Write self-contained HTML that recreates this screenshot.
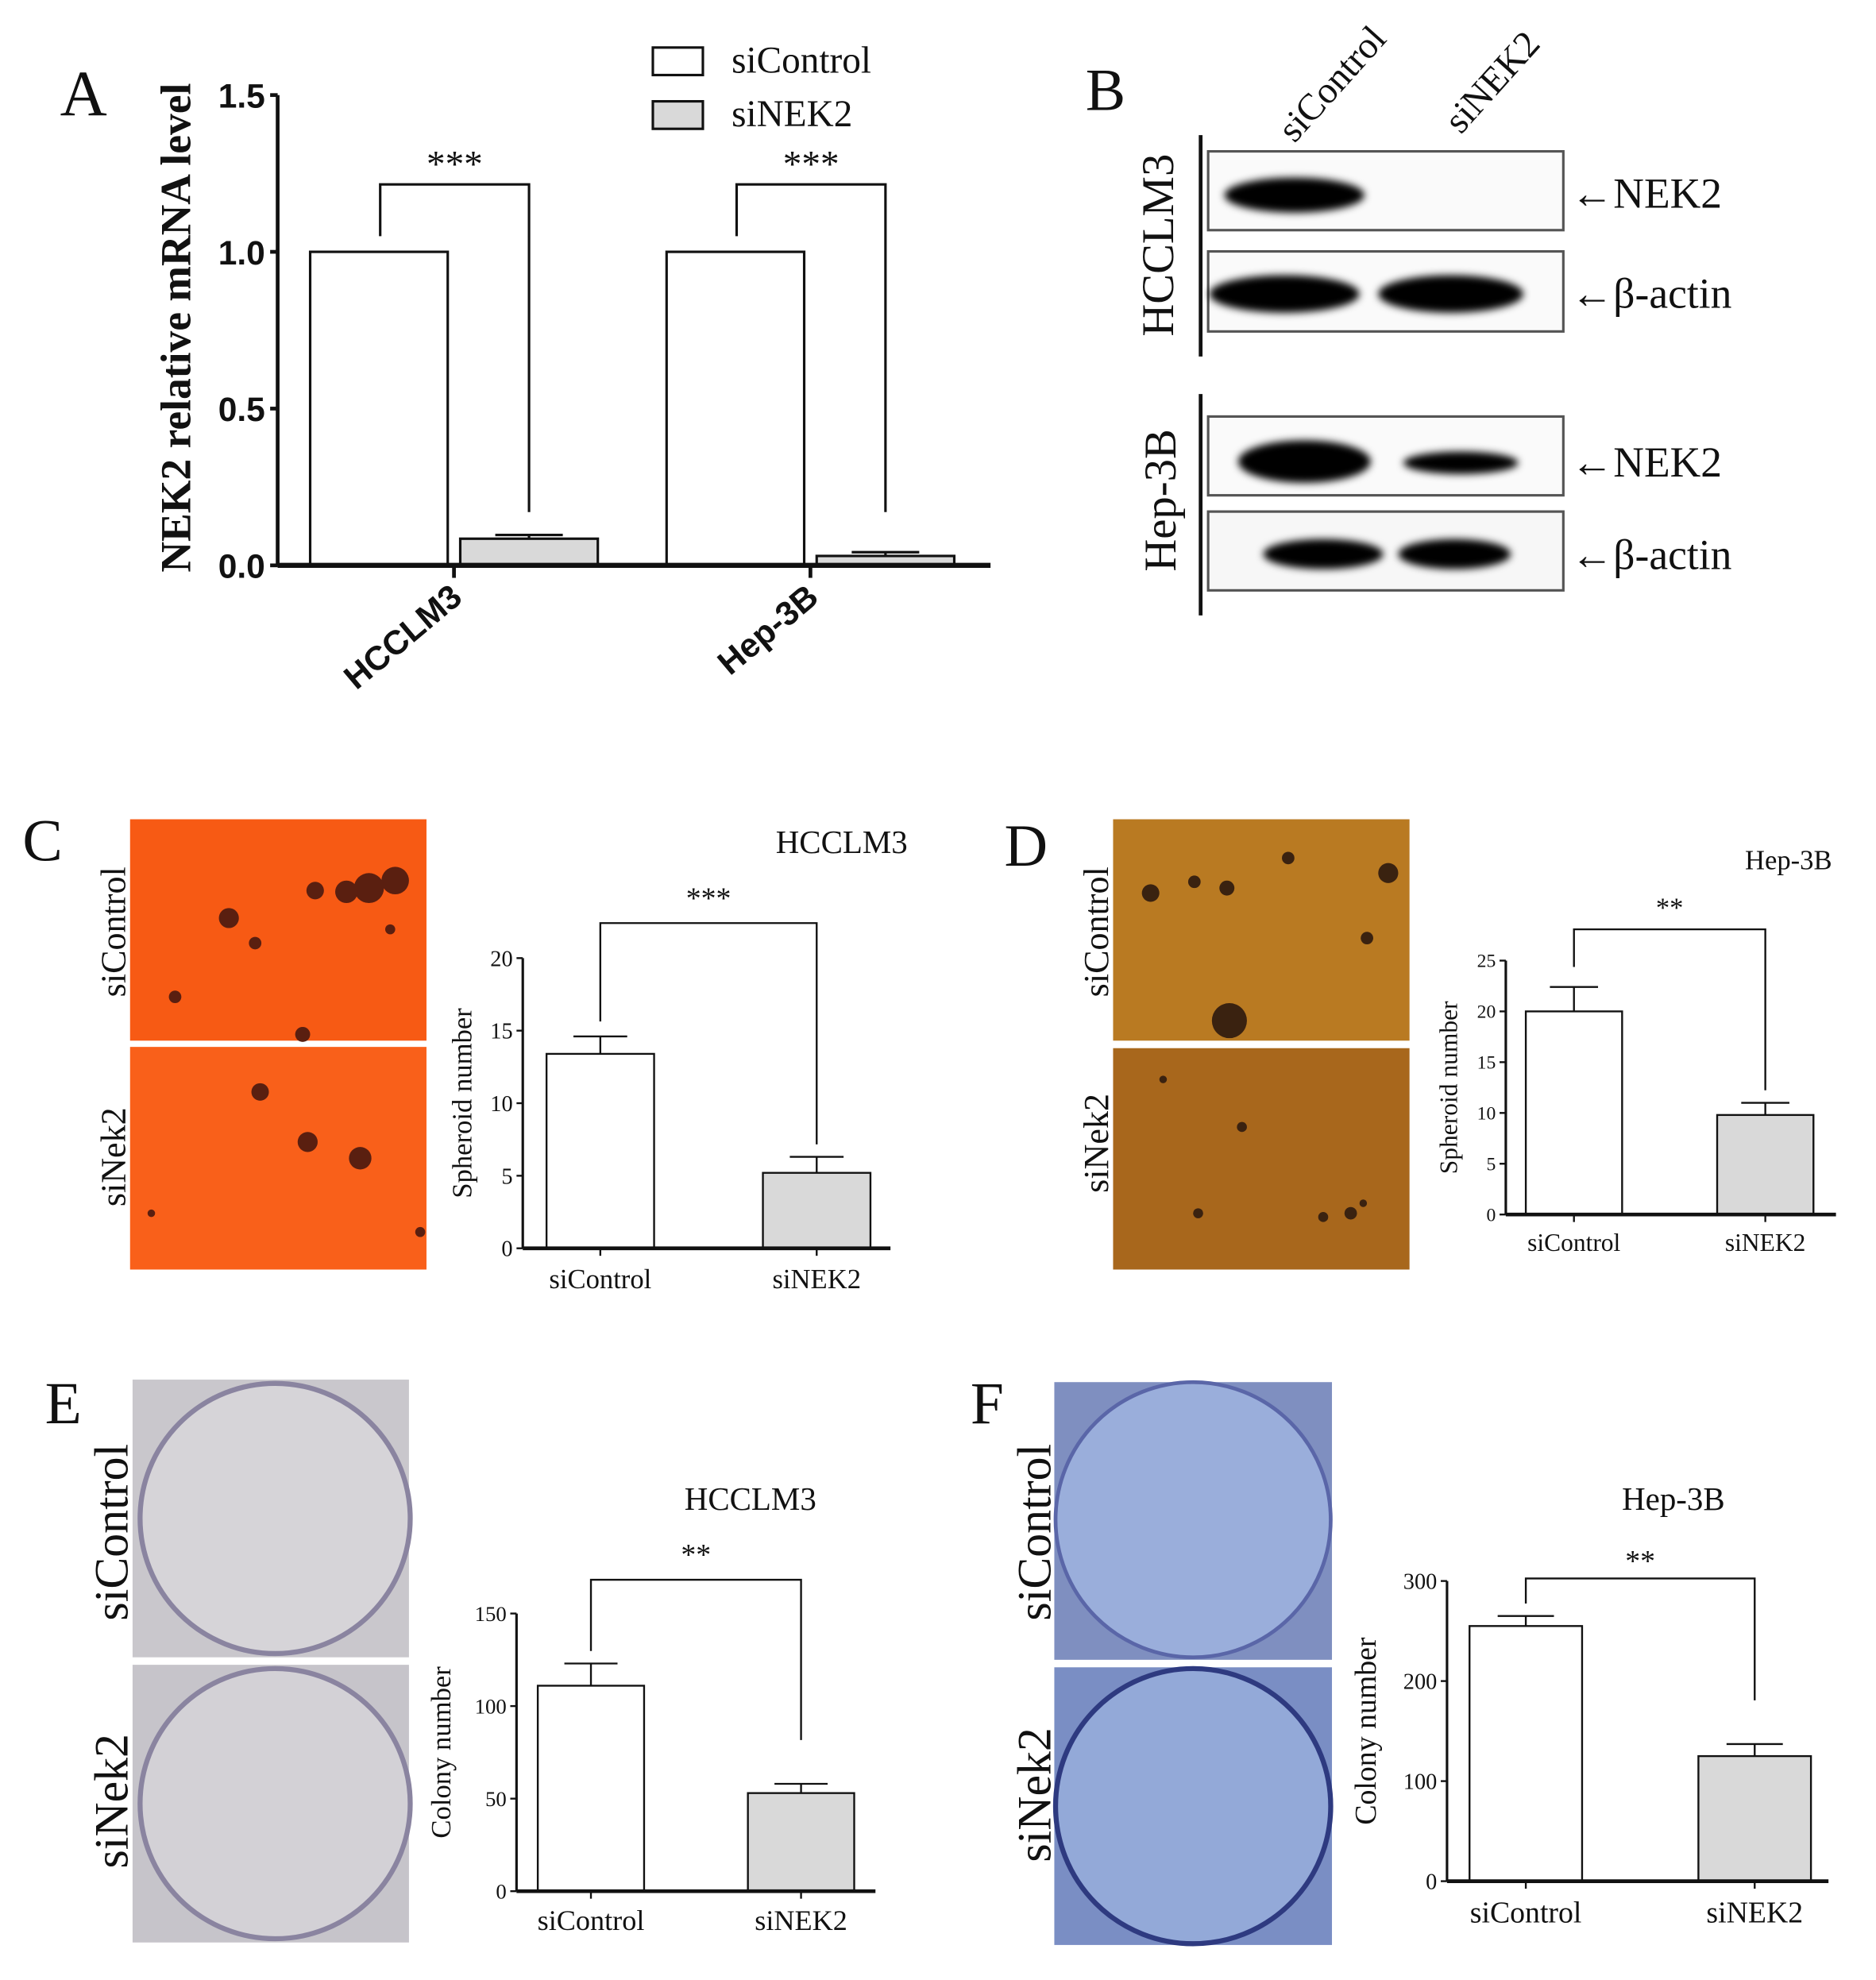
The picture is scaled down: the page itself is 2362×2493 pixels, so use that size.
<!DOCTYPE html>
<html><head><meta charset="utf-8">
<style>
html,body{margin:0;padding:0;background:#fff;}
svg{display:block;}
text{font-family:"Liberation Serif",serif;fill:#111;}
.sans{font-family:"Liberation Sans",sans-serif;font-weight:bold;}
</style></head>
<body>
<svg id="fig" xmlns="http://www.w3.org/2000/svg" width="2362" height="2493" viewBox="0 0 1500 1583" preserveAspectRatio="none">
<rect width="1500" height="1583" fill="#fff"/>
<!-- Panel labels -->
<text x="48" y="92" font-size="52">A</text>
<text x="868" y="88" font-size="48">B</text>
<text x="18" y="688" font-size="48">C</text>
<text x="803" y="692" font-size="48">D</text>
<text x="36" y="1138" font-size="48">E</text>
<text x="776" y="1138" font-size="48">F</text>

<!-- Panel A legend -->
<g>
<rect x="522" y="38" width="40" height="22" fill="#fff" stroke="#111" stroke-width="2"/>
<text x="585" y="58" font-size="30">siControl</text>
<rect x="522" y="81" width="40" height="22" fill="#d9d9d9" stroke="#111" stroke-width="2"/>
<text x="585" y="101" font-size="30">siNEK2</text>
</g>
<g id="chartA"></g>

<!-- Panel B western blot -->
<g>
<defs>
<filter id="blur" x="-20%" y="-50%" width="140%" height="200%"><feGaussianBlur stdDeviation="3"/></filter>
</defs>
<text transform="translate(1035,115) rotate(-48)" font-size="30">siControl</text>
<text transform="translate(1168,108) rotate(-48)" font-size="30">siNEK2</text>
<line x1="960" y1="108" x2="960" y2="285" stroke="#111" stroke-width="3"/>
<line x1="960" y1="315" x2="960" y2="492" stroke="#111" stroke-width="3"/>
<text transform="translate(938,196) rotate(-90)" font-size="36" text-anchor="middle">HCCLM3</text>
<text transform="translate(940,400) rotate(-90)" font-size="36" text-anchor="middle">Hep-3B</text>
<rect x="966" y="121" width="284" height="63" fill="#fafafa" stroke="#555" stroke-width="2"/>
<ellipse cx="1035" cy="156" rx="56" ry="14" fill="#000" filter="url(#blur)"/>
<rect x="966" y="201" width="284" height="64" fill="#fafafa" stroke="#555" stroke-width="2"/>
<ellipse cx="1027" cy="235" rx="60" ry="15" fill="#000" filter="url(#blur)"/>
<ellipse cx="1160" cy="235" rx="58" ry="15" fill="#000" filter="url(#blur)"/>
<rect x="966" y="333" width="284" height="63" fill="#fafafa" stroke="#555" stroke-width="2"/>
<ellipse cx="1043" cy="369" rx="53" ry="17" fill="#000" filter="url(#blur)"/>
<ellipse cx="1168" cy="370" rx="46" ry="9" fill="#000" filter="url(#blur)"/>
<rect x="966" y="409" width="284" height="63" fill="#f7f7f7" stroke="#555" stroke-width="2"/>
<ellipse cx="1058" cy="443" rx="48" ry="12" fill="#000" filter="url(#blur)"/>
<ellipse cx="1163" cy="443" rx="45" ry="12" fill="#000" filter="url(#blur)"/>
<text x="1256" y="166" font-size="34">←NEK2</text>
<text x="1256" y="246" font-size="34">←β-actin</text>
<text x="1256" y="381" font-size="34">←NEK2</text>
<text x="1256" y="455" font-size="34">←β-actin</text>
</g>

<!-- Panel C photos -->
<g>
<rect x="104" y="655" width="237" height="177" fill="#f75a14"/>
<rect x="104" y="837" width="237" height="178" fill="#f9601a"/>
<g fill="#5a1f10">
<circle cx="316" cy="704" r="11"/><circle cx="295" cy="710" r="12"/><circle cx="277" cy="713" r="9"/><circle cx="252" cy="712" r="7"/>
<circle cx="183" cy="734" r="8"/><circle cx="204" cy="754" r="5"/><circle cx="140" cy="797" r="5"/><circle cx="242" cy="827" r="6"/><circle cx="312" cy="743" r="4"/>
<circle cx="208" cy="873" r="7"/><circle cx="246" cy="913" r="8"/><circle cx="288" cy="926" r="9"/><circle cx="121" cy="970" r="3"/><circle cx="336" cy="985" r="4"/>
</g>
<text transform="translate(100,745) rotate(-90)" font-size="28" text-anchor="middle">siControl</text>
<text transform="translate(100,925) rotate(-90)" font-size="28" text-anchor="middle">siNek2</text>
</g>
<!-- Panel D photos -->
<g>
<rect x="890" y="655" width="237" height="177" fill="#b97a22"/>
<rect x="890" y="838" width="237" height="177" fill="#a8671c"/>
<g fill="#3a2210">
<circle cx="983" cy="816" r="14"/><circle cx="1110" cy="698" r="8"/><circle cx="920" cy="714" r="7"/><circle cx="955" cy="705" r="5"/><circle cx="981" cy="710" r="6"/><circle cx="1030" cy="686" r="5"/><circle cx="1093" cy="750" r="5"/><circle cx="930" cy="863" r="3"/>
<circle cx="1080" cy="970" r="5"/><circle cx="1058" cy="973" r="4"/><circle cx="993" cy="901" r="4"/><circle cx="958" cy="970" r="4"/><circle cx="1090" cy="962" r="3"/>
</g>
<text transform="translate(886,745) rotate(-90)" font-size="28" text-anchor="middle">siControl</text>
<text transform="translate(886,914) rotate(-90)" font-size="28" text-anchor="middle">siNek2</text>
</g>
<!-- Panel E photos -->
<g>
<rect x="106" y="1103" width="221" height="222" fill="#c9c7cc"/>
<circle cx="220" cy="1214" r="108" fill="#d6d4d8" stroke="#8a84a0" stroke-width="4"/>
<rect x="106" y="1331" width="221" height="222" fill="#c6c4ca"/>
<circle cx="220" cy="1442" r="108" fill="#d3d1d6" stroke="#8a84a0" stroke-width="4"/>
<text transform="translate(102,1225) rotate(-90)" font-size="38" text-anchor="middle">siControl</text>
<text transform="translate(102,1440) rotate(-90)" font-size="38" text-anchor="middle">siNek2</text>
</g>
<!-- Panel F photos -->
<g>
<rect x="843" y="1105" width="222" height="222" fill="#7f8fc0"/>
<circle cx="954" cy="1215" r="110" fill="#9aaedb" stroke="#5a66a8" stroke-width="3"/>
<rect x="843" y="1333" width="222" height="222" fill="#7a8ec4"/>
<circle cx="954" cy="1444" r="110" fill="#93a9d8" stroke="#2e3a80" stroke-width="4"/>
<text transform="translate(840,1225) rotate(-90)" font-size="38" text-anchor="middle">siControl</text>
<text transform="translate(840,1435) rotate(-90)" font-size="38" text-anchor="middle">siNek2</text>
</g>
<g id="chartC"></g>
<g id="chartD"></g>
<g id="chartE"></g>
<g id="chartF"></g>
</svg>
<script>
// ---- Panel A data ----
const aCategories = ["HCCLM3", "Hep-3B"];
const aControl = [1.0, 1.0];
const aControlErr = [0, 0];
const aNek2 = [0.085, 0.03];
const aNek2Err = [0.012, 0.012];
const aTicks = [0, 0.5, 1.0, 1.5];
const aTickLabels = ["0.0", "0.5", "1.0", "1.5"];
// ---- Panel C data ----
const cCategories = ["siControl", "siNEK2"];
const cValues = [13.4, 5.2];
const cErrors = [1.2, 1.1];
const cTicks = [0, 5, 10, 15, 20];
// ---- Panel D data ----
const dCategories = ["siControl", "siNEK2"];
const dValues = [20, 9.8];
const dErrors = [2.4, 1.2];
const dTicks = [0, 5, 10, 15, 20, 25];
// ---- Panel E data ----
const eCategories = ["siControl", "siNEK2"];
const eValues = [111, 53];
const eErrors = [12, 5];
const eTicks = [0, 50, 100, 150];
// ---- Panel F data ----
const fCategories = ["siControl", "siNEK2"];
const fValues = [255, 125];
const fErrors = [10, 12];
const fTicks = [0, 100, 200, 300];

const NS = "http://www.w3.org/2000/svg";
function mk(parent, tag, attrs, txt) {
  const el = document.createElementNS(NS, tag);
  for (const k in attrs) el.setAttribute(k, attrs[k]);
  if (txt !== undefined) el.textContent = txt;
  parent.appendChild(el);
  return el;
}

// Panel A
(function(){
  const g = document.getElementById("chartA");
  const x0 = 222, x1 = 792, yb = 452, yt = 76, vmax = 1.5;
  const y = v => yb - (yb - yt) * v / vmax;
  const groupStart = [248, 533], bw = 110, gap = 10;
  mk(g, "line", {x1:x0, y1:yt, x2:x0, y2:yb, stroke:"#111", "stroke-width":3});
  aTicks.forEach((t,i) => {
    mk(g, "line", {x1:x0-6, y1:y(t), x2:x0, y2:y(t), stroke:"#111", "stroke-width":3});
    const tl = mk(g, "text", {x:x0-10, y:y(t)+10, "font-size":27, "text-anchor":"end", class:"sans"}, aTickLabels[i]);
    
    
  });
  const yt2 = mk(g, "text", {transform:"translate(152,262) rotate(-90)", "font-size":34, "font-weight":"bold", "text-anchor":"middle"}, "NEK2 relative mRNA level");
  
  
  aCategories.forEach((c,i) => {
    const xs = groupStart[i];
    const b1 = mk(g, "rect", {x:xs, y:y(aControl[i]), width:bw, height:yb-y(aControl[i]), fill:"#fff", stroke:"#111", "stroke-width":2});
    
    
    const xn = xs + bw + gap;
    const b2 = mk(g, "rect", {x:xn, y:y(aNek2[i]), width:bw, height:yb-y(aNek2[i]), fill:"#d9d9d9", stroke:"#111", "stroke-width":2});
    
    
    const xc = xn + bw/2, ye = y(aNek2[i] + aNek2Err[i]);
    mk(g, "line", {x1:xc, y1:y(aNek2[i]), x2:xc, y2:ye, stroke:"#111", "stroke-width":2});
    mk(g, "line", {x1:xc-27, y1:ye, x2:xc+27, y2:ye, stroke:"#111", "stroke-width":2});
    // bracket
    const bl = xs + bw/2 + 1, br = xc;
    mk(g, "polyline", {points:`${bl},${y(1.05)} ${bl},${y(1.215)} ${br},${y(1.215)} ${br},${y(0.17)}`, fill:"none", stroke:"#111", "stroke-width":2});
    const st = mk(g, "text", {x:(bl+br)/2, y:y(1.215)-6, "font-size":30, "text-anchor":"middle"}, "***");
    
    
    // tick & label
    const tx = xs + bw + gap/2;
    mk(g, "line", {x1:tx, y1:yb, x2:tx, y2:yb+10, stroke:"#111", "stroke-width":3});
    const xl = mk(g, "text", {transform:`translate(${tx+8},${yb+28}) rotate(-40)`, "font-size":27, "text-anchor":"end", class:"sans"}, c);
    
    
  });
  mk(g, "line", {x1:x0, y1:yb, x2:x1, y2:yb, stroke:"#111", "stroke-width":4});
})();

function smallChart(id, cats, vals, errs, ticks, cfg) {
  const g = document.getElementById(id);
  const y = v => cfg.yb - (cfg.yb - cfg.yt) * v / cfg.vmax;
  mk(g, "line", {x1:cfg.x0, y1:cfg.yt, x2:cfg.x0, y2:cfg.yb, stroke:"#111", "stroke-width":2});
  ticks.forEach(t => {
    mk(g, "line", {x1:cfg.x0-5, y1:y(t), x2:cfg.x0, y2:y(t), stroke:"#111", "stroke-width":1.5});
    const tl = mk(g, "text", {x:cfg.x0-8, y:y(t)+cfg.tf*0.35, "font-size":cfg.tf, "text-anchor":"end"}, String(t));
    
    
  });
  const yt = mk(g, "text", {transform:`translate(${cfg.ytx},${(cfg.yt+cfg.yb)/2}) rotate(-90)`, "font-size":cfg.yf, "text-anchor":"middle"}, cfg.ylabel);
  
  
  const title = mk(g, "text", {x:cfg.titleX, y:cfg.titleY, "font-size":cfg.titleF, "text-anchor":"middle"}, cfg.title);
  
  
  const centers = [];
  cats.forEach((c,i) => {
    const xs = cfg.bx[i];
    const b = mk(g, "rect", {x:xs, y:y(vals[i]), width:cfg.bw, height:cfg.yb-y(vals[i]), fill:i===0?"#fff":"#d9d9d9", stroke:"#111", "stroke-width":1.5});
    
    
    const xc = xs + cfg.bw/2; centers.push(xc);
    const ye = y(vals[i] + errs[i]);
    mk(g, "line", {x1:xc, y1:y(vals[i]), x2:xc, y2:ye, stroke:"#111", "stroke-width":1.5});
    mk(g, "line", {x1:xc-cfg.bw*0.25, y1:ye, x2:xc+cfg.bw*0.25, y2:ye, stroke:"#111", "stroke-width":1.5});
    mk(g, "line", {x1:xc, y1:cfg.yb, x2:xc, y2:cfg.yb+6, stroke:"#111", "stroke-width":1.5});
    const xl = mk(g, "text", {x:xc, y:cfg.xly, "font-size":cfg.xf, "text-anchor":"middle"}, c);
    
    
  });
  mk(g, "line", {x1:cfg.x0, y1:cfg.yb, x2:cfg.x1, y2:cfg.yb, stroke:"#111", "stroke-width":3});
  const by = cfg.by;
  mk(g, "polyline", {points:`${centers[0]},${y(vals[0]+errs[0])-cfg.gapL} ${centers[0]},${by} ${centers[1]},${by} ${centers[1]},${y(vals[1]+errs[1])-cfg.gapR}`, fill:"none", stroke:"#111", "stroke-width":1.5});
  const st = mk(g, "text", {x:(centers[0]+centers[1])/2, y:by-cfg.starOff, "font-size":cfg.starF, "text-anchor":"middle"}, cfg.stars);
  
  
}

smallChart("chartC", cCategories, cValues, cErrors, cTicks, {x0:418,x1:712,yt:766,yb:998,vmax:20,bx:[437,610],bw:86,tf:18,yf:22,ytx:377,ylabel:"Spheroid number",title:"HCCLM3",titleX:673,titleY:682,titleF:26,xf:22,xly:1030,by:738,gapL:12,gapR:10,starOff:12,starF:24,stars:"***"});
smallChart("chartD", dCategories, dValues, dErrors, dTicks, {x0:1204,x1:1468,yt:768,yb:971,vmax:25,bx:[1220,1373],bw:77,tf:15,yf:20,ytx:1165,ylabel:"Spheroid number",title:"Hep-3B",titleX:1430,titleY:695,titleF:22,xf:20,xly:1000,by:743,gapL:16,gapR:10,starOff:10,starF:22,stars:"**"});
smallChart("chartE", eCategories, eValues, eErrors, eTicks, {x0:413,x1:700,yt:1290,yb:1512,vmax:150,bx:[430,598],bw:85,tf:17,yf:22,ytx:360,ylabel:"Colony number",title:"HCCLM3",titleX:600,titleY:1207,titleF:26,xf:23,xly:1543,by:1263,gapL:10,gapR:35,starOff:12,starF:24,stars:"**"});
smallChart("chartF", fCategories, fValues, fErrors, fTicks, {x0:1157,x1:1462,yt:1264,yb:1504,vmax:300,bx:[1175,1358],bw:90,tf:18,yf:24,ytx:1100,ylabel:"Colony number",title:"Hep-3B",titleX:1338,titleY:1207,titleF:26,xf:24,xly:1537,by:1262,gapL:10,gapR:35,starOff:6,starF:24,stars:"**"});
</script>
</body></html>
